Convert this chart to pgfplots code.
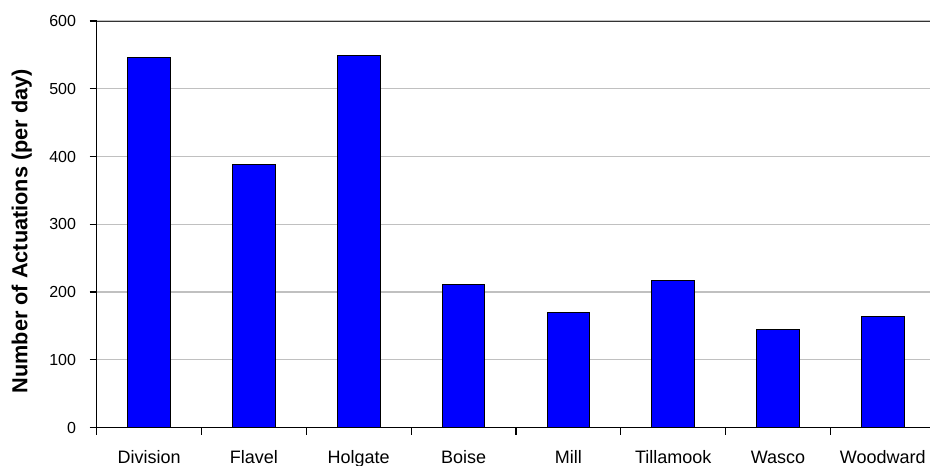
\documentclass[border=0pt]{standalone}
\usepackage{fontspec}
\setmainfont{Liberation Sans}
\usepackage{pgfplots}
\pgfplotsset{compat=1.18}
\definecolor{barblue}{RGB}{0,0,255}
\definecolor{gridgray}{RGB}{192,192,192}

\begin{document}
\begin{tikzpicture}
\begin{axis}[
  scale only axis,
  width=833.3pt, height=406.5pt,
  xmin=-0.5, xmax=7.45,
  ymin=0, ymax=600,
  ytick={0,100,...,600},
  xtick={-0.5,0.5,...,6.5},
  xticklabels={Division,Flavel,Holgate,Boise,Mill,Tillamook,Wasco,Woodward},
  axis x line*=bottom,
  axis y line*=left,
  axis line style={line width=1.2pt, black},
  ymajorgrids,
  grid style={line width=1.2pt, gridgray},
  tick align=outside,
  major tick length=7pt,
  tick style={line width=1.1pt, black},
  /pgf/number format/assume math mode=true,
  yticklabel style={font=\fontsize{16}{19}\selectfont, inner sep=0pt, xshift=-13.5pt},
  xticklabel style={font=\fontsize{18}{21}\selectfont, anchor=base, inner sep=0pt, xshift=52.4pt, yshift=-28.5pt},
  ylabel={Number of Actuations (per day)},
  ylabel style={font=\fontsize{21.7}{24}\selectfont\bfseries, at={(axis description cs:-0.090,0.483)}, anchor=center},
  ybar, bar width=42.7pt,
]
\addplot[fill=barblue, draw=black, line width=1pt] coordinates {
  (0,546) (1,388) (2,549) (3,211) (4,170) (5,217) (6,145) (7,164)
};
\draw[line width=1.6pt, black!80] (rel axis cs:0,1) -- (rel axis cs:1,1);
\end{axis}
\pgfresetboundingbox
\useasboundingbox (-96.7pt,-38.5pt) rectangle (833.3pt,427.5pt);
\end{tikzpicture}
\end{document}
